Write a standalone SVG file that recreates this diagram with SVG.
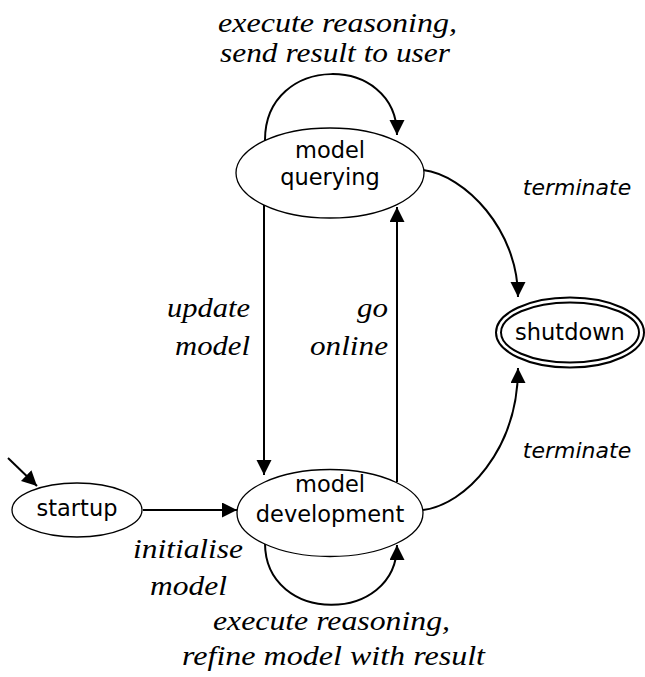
<svg xmlns="http://www.w3.org/2000/svg" width="645" height="677" viewBox="0 0 645 677">
<style>
.node ellipse{fill:#fff;stroke:#000;stroke-width:1.3}
.node text{font-family:"DejaVu Sans",sans-serif;font-size:22.5px;text-anchor:middle;fill:#000}
.final ellipse{fill:#fff;stroke:#000;stroke-width:2}
.edge{fill:none;stroke:#000;stroke-width:2;marker-end:url(#arr)}
.lbl{font-family:"Liberation Serif",serif;font-style:italic;font-size:28px;fill:#000}
.lbls{font-family:"DejaVu Sans",sans-serif;font-style:italic;font-size:22px;fill:#000;text-anchor:middle}
</style>
<defs>
<marker id="arr" markerUnits="userSpaceOnUse" markerWidth="16" markerHeight="16" viewBox="0 0 16 16" refX="15" refY="7.5" orient="auto">
<path d="M0,0 L15,7.5 L0,15 z" fill="#000"/>
</marker>
</defs>
<g id="connectors">
<path class="edge" d="M8,458 L37,486"/>
<path class="edge" d="M143,510 L237,510"/>
<path class="edge" d="M264,205 L264,475"/>
<path class="edge" d="M397,482 L397,207"/>
<path class="edge" d="M265,140 C265,53 397,53 397,135"/>
<path class="edge" d="M265,543 C265,625 397,625 397,545"/>
<path class="edge" d="M423,170 C465,175 518,230 518,297"/>
<path class="edge" d="M423,510 C465,505 518,450 518,368"/>
</g>
<g id="labels">
<text class="lbl" x="218" y="32" textLength="239" lengthAdjust="spacingAndGlyphs">execute reasoning,</text>
<text class="lbl" x="220" y="62" textLength="230" lengthAdjust="spacingAndGlyphs">send result to user</text>
<text class="lbl" x="167" y="317" textLength="83" lengthAdjust="spacingAndGlyphs">update</text>
<text class="lbl" x="175" y="355" textLength="75" lengthAdjust="spacingAndGlyphs">model</text>
<text class="lbl" x="357" y="317" textLength="31" lengthAdjust="spacingAndGlyphs">go</text>
<text class="lbl" x="310" y="355" textLength="78" lengthAdjust="spacingAndGlyphs">online</text>
<text class="lbl" x="133" y="558" textLength="110" lengthAdjust="spacingAndGlyphs">initialise</text>
<text class="lbl" x="150" y="595" textLength="77" lengthAdjust="spacingAndGlyphs">model</text>
<text class="lbl" x="213" y="630" textLength="237" lengthAdjust="spacingAndGlyphs">execute reasoning,</text>
<text class="lbl" x="182" y="665" textLength="303" lengthAdjust="spacingAndGlyphs">refine model with result</text>
<text class="lbls" x="577" y="195">terminate</text>
<text class="lbls" x="577" y="458">terminate</text>
</g>
<g id="querying" class="node">
<ellipse cx="330" cy="173" rx="94" ry="45"/>
<text x="330" y="158">model</text>
<text x="330" y="185">querying</text>
</g>
<g id="development" class="node">
<ellipse cx="330" cy="513" rx="93" ry="43.5"/>
<text x="330" y="492">model</text>
<text x="330" y="522">development</text>
</g>
<g id="startup" class="node">
<ellipse cx="77" cy="510" rx="65" ry="27"/>
<text x="77" y="516">startup</text>
</g>
<g id="shutdown" class="node final">
<ellipse cx="570" cy="332.5" rx="74" ry="35"/>
<ellipse cx="570" cy="332.5" rx="69" ry="30"/>
<text x="570" y="340">shutdown</text>
</g>
</svg>
